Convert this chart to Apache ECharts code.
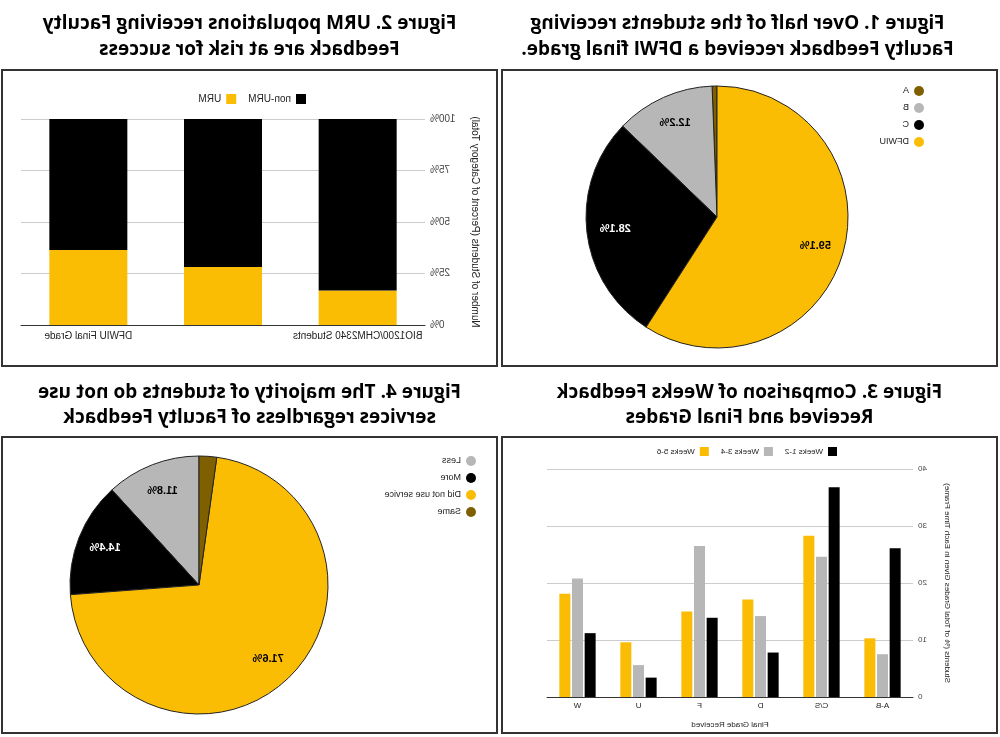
<!DOCTYPE html>
<html>
<head>
<meta charset="utf-8">
<script src="https://cdn.jsdelivr.net/npm/echarts@6/dist/echarts.min.js"></script>
<style>
  html, body { margin: 0; padding: 0; background: #fff; }
  /* the reference is a mirror image, so the whole sheet is flipped */
  #sheet { position: relative; width: 1000px; height: 737px; transform: scaleX(-1); overflow: hidden; }
  .title { position: absolute; width: 497px; text-align: center; font-family: 'Open Sans', sans-serif;
           font-weight: 700; font-size: 19px; color: #000; white-space: nowrap; }
  .box { position: absolute; width: 497px; height: 298px; }
  .frame { position: absolute; width: 497px; height: 298px; box-sizing: border-box; border: 2px solid #333; pointer-events: none; }
</style>
</head>
<body>
<div id="sheet">
  <div class="title" style="left:14px;top:9px;line-height:26px">Figure 1. Over half of the students receiving<br>Faculty Feedback received a DFWI final grade.</div>
  <div class="title" style="left:502px;top:9px;line-height:26px">Figure 2. URM populations receiving Faculty<br>Feedback are at risk for success</div>
  <div class="title" style="left:2px;top:379px;line-height:25px">Figure 3. Comparison of Weeks Feedback<br>Received and Final Grades</div>
  <div class="title" style="left:502px;top:379px;line-height:25px">Figure 4. The majority of students do not use<br>services regardless of Faculty Feedback</div>

  <div id="fig1" class="box" style="left:2px;top:69px"></div>
  <div id="fig2" class="box" style="left:502px;top:69px"></div>
  <div id="fig3" class="box" style="left:2px;top:436px"></div>
  <div id="fig4" class="box" style="left:502px;top:436px"></div>
  <div class="frame" style="left:2px;top:69px"></div>
  <div class="frame" style="left:502px;top:69px"></div>
  <div class="frame" style="left:2px;top:436px"></div>
  <div class="frame" style="left:502px;top:436px"></div>
</div>
<script>
  // Figure 1 - final grades of students receiving feedback (percent)
  const gradeNames = ['A', 'B', 'C', 'DFWIU']
  const gradeShare = [0.6, 12.2, 28.1, 59.1]

  // Figure 2 - URM share per group (percent of category)
  const groupNames = ['BIO1200/CHM2340 Students', 'Faculty Feedback', 'DFWIU Final Grade']
  const urmShare = [16.7, 28.2, 36.4]
  const nonUrmShare = [83.3, 71.8, 63.6]

  // Figure 3 - % of grades given in each time frame
  const finalGrades = ['A-B', 'C/S', 'D', 'F', 'U', 'W']
  const weeks12 = [26.1, 36.8, 7.8, 13.9, 3.4, 11.2]
  const weeks34 = [7.5, 24.6, 14.2, 26.5, 5.6, 20.8]
  const weeks56 = [10.3, 28.3, 17.1, 15.0, 9.6, 18.1]

  // Figure 4 - service use (percent)
  const useNames = ['Less', 'More', 'Did not use service', 'Same']
  const useShare = [11.8, 14.4, 71.6, 2.2]

  const YELLOW = '#fbbc04'
  const GRAY = '#b7b7b7'
  const BLACK = '#000000'
  const BROWN = '#7f6000'
  const FONT = 'Liberation Sans, Arial, sans-serif'

  function pieOption(names, values, colors, center, radius, legendLeft, legendTop, legendFont) {
    const items = names.map((n, i) => ({
      name: n,
      value: values[i],
      itemStyle: { color: colors[i] },
      label: { color: colors[i] === BLACK ? '#fff' : '#000' }
    }))
    return {
      animation: false,
      legend: {
        orient: 'vertical',
        left: legendLeft,
        top: legendTop,
        icon: 'circle',
        itemWidth: 10,
        itemHeight: 10,
        itemGap: 5,
        itemStyle: { borderWidth: 0 },
        textStyle: { fontFamily: FONT, fontSize: legendFont, color: '#222', lineHeight: 12 },
        data: names
      },
      series: [
        {
          type: 'pie',
          center: center,
          radius: radius,
          startAngle: 90,
          label: { show: false },
          labelLine: { show: false },
          itemStyle: { borderColor: '#222', borderWidth: 1 },
          emphasis: { disabled: true },
          data: items
        },
        {
          // transparent ring only used to place the labels at ~3/4 radius
          type: 'pie',
          center: center,
          radius: [Math.round(radius * 0.52), radius],
          startAngle: 90,
          silent: true,
          minShowLabelAngle: 20,
          itemStyle: { color: 'rgba(0,0,0,0)', borderWidth: 0 },
          labelLine: { show: false },
          label: {
            show: true,
            position: 'inside',
            fontFamily: FONT,
            fontWeight: 'bold',
            fontSize: 11,
            formatter: p => p.value.toFixed(1) + '%'
          },
          data: items.map(d => ({ name: d.name, value: d.value, label: d.label }))
        }
      ]
    }
  }

  const chart1 = echarts.init(document.getElementById('fig1'))
  chart1.setOption(pieOption(gradeNames, gradeShare, [BROWN, GRAY, BLACK, YELLOW], [281, 148], 131, 69, 11, 9))

  const chart4 = echarts.init(document.getElementById('fig4'))
  chart4.setOption(pieOption(useNames, useShare, [GRAY, BLACK, YELLOW, BROWN], [299, 149], 129, 17, 14, 9))

  const chart2 = echarts.init(document.getElementById('fig2'))
  chart2.setOption({
    animation: false,
    legend: {
      left: 187,
      top: 20,
      icon: 'rect',
      itemWidth: 10,
      itemHeight: 10,
      itemGap: 12,
      textStyle: { fontFamily: FONT, fontSize: 10, color: '#222' },
      data: ['non-URM', 'URM']
    },
    grid: { left: 73, right: 20, top: 50, bottom: 42 },
    xAxis: {
      type: 'category',
      data: groupNames,
      axisTick: { show: false },
      axisLine: { lineStyle: { color: '#333' } },
      axisLabel: { fontFamily: FONT, fontSize: 10, color: '#222', margin: 6 }
    },
    yAxis: {
      type: 'value',
      min: 0,
      max: 100,
      interval: 25,
      name: 'Number of Students (Percent of Category Total)',
      nameLocation: 'middle',
      nameGap: 45,
      nameTextStyle: { fontFamily: FONT, fontSize: 10, color: '#222' },
      axisLabel: { fontFamily: FONT, fontSize: 10, color: '#444', margin: 5, formatter: '{value}%' },
      splitLine: { lineStyle: { color: '#ccc' } }
    },
    series: [
      { name: 'URM', type: 'bar', stack: 'all', barWidth: 78, itemStyle: { color: YELLOW }, data: urmShare },
      { name: 'non-URM', type: 'bar', stack: 'all', barWidth: 78, itemStyle: { color: BLACK }, data: nonUrmShare }
    ]
  })

  const chart3 = echarts.init(document.getElementById('fig3'))
  chart3.setOption({
    animation: false,
    legend: {
      left: 156,
      top: 6,
      icon: 'rect',
      itemWidth: 9,
      itemHeight: 9,
      itemGap: 12,
      textStyle: { fontFamily: FONT, fontSize: 8, color: '#222' },
      data: ['Weeks 1-2', 'Weeks 3-4', 'Weeks 5-6']
    },
    grid: { left: 85, right: 46, top: 33, bottom: 37 },
    xAxis: {
      type: 'category',
      data: finalGrades,
      name: 'Final Grade Received',
      nameLocation: 'middle',
      nameGap: 24,
      nameTextStyle: { fontFamily: FONT, fontSize: 8, color: '#222' },
      axisTick: { show: false },
      axisLine: { lineStyle: { color: '#333' } },
      axisLabel: { fontFamily: FONT, fontSize: 8, color: '#222', margin: 5 }
    },
    yAxis: {
      type: 'value',
      min: 0,
      max: 40,
      interval: 10,
      name: 'Students (% of Total Grades Given in Each Time Frame)',
      nameLocation: 'middle',
      nameGap: 30,
      nameTextStyle: { fontFamily: FONT, fontSize: 8, color: '#222' },
      axisLabel: { fontFamily: FONT, fontSize: 8, color: '#444', margin: 5 },
      splitLine: { lineStyle: { color: '#ccc' } }
    },
    series: [
      { name: 'Weeks 1-2', type: 'bar', barWidth: 11, barGap: '15%', itemStyle: { color: BLACK }, data: weeks12 },
      { name: 'Weeks 3-4', type: 'bar', barWidth: 11, barGap: '15%', itemStyle: { color: GRAY }, data: weeks34 },
      { name: 'Weeks 5-6', type: 'bar', barWidth: 11, barGap: '15%', itemStyle: { color: YELLOW }, data: weeks56 }
    ]
  })
</script>
</body>
</html>
